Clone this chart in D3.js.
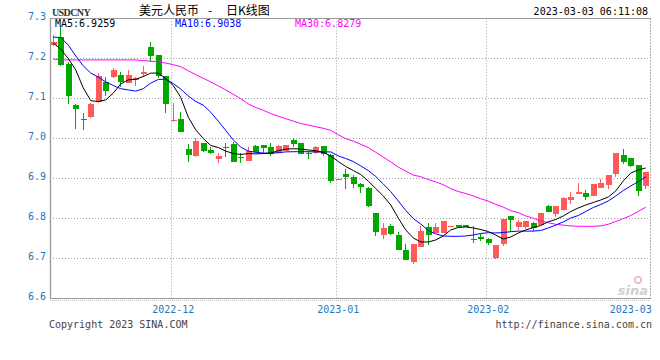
<!DOCTYPE html>
<html><head><meta charset="utf-8">
<script src="https://cdn.jsdelivr.net/npm/d3@7/dist/d3.min.js"></script>
<style>
html,body{margin:0;padding:0;background:#fff;}
svg{display:block;}
</style></head>
<body>
<svg id="chart" width="660" height="360"></svg>
<script>
// ---- data ----
const symbol = "USDCNY";
const titleMain = "美元人民币";
const titleSub = "日K线图";
const stamp = "2023-03-03 06:11:08";
const maLabels = ["MA5:6.9259", "MA10:6.9038", "MA30:6.8279"];
const yTicks = [7.3, 7.2, 7.1, 7.0, 6.9, 6.8, 6.7, 6.6];
const monthTickIdx = [16, 38, 58, 77];
const monthTickLabels = ["2022-12", "2023-01", "2023-02", "2023-03"];

const opens = [7.234,7.254,7.186,7.083,7.048,7.054,7.0915,7.1415,7.1525,7.158,
7.139,7.146,7.161,7.229,7.2083,7.156,7.043,7.048,6.973,6.956,
6.9875,6.971,6.949,6.979,6.986,6.953,6.944,6.981,6.9835,6.9775,
6.964,6.9683,6.9958,6.9875,6.9635,6.964,6.981,6.958,6.897,6.9108,
6.904,6.885,6.875,6.814,6.7583,6.781,6.7583,6.7208,6.6915,6.729,
6.7775,6.7625,6.7625,6.7813,6.783,6.783,6.7478,6.7525,6.7475,6.7008,
6.7358,6.8058,6.7783,6.7775,6.7875,6.7833,6.8308,6.8108,6.8208,6.846,
6.8608,6.864,6.8565,6.8765,6.8833,6.9108,6.958,6.95,6.9333,6.8815];
const highs = [7.258,7.278,7.19,7.085,7.063,7.089,7.1625,7.154,7.175,7.1665,
7.171,7.154,7.181,7.2415,7.2083,7.156,7.089,7.0665,6.986,7.0015,
6.989,6.9775,6.964,6.9875,6.99,6.9625,6.9775,6.9835,6.9835,6.9875,
6.9835,6.9835,7.0,6.9875,6.969,6.98,6.981,6.96,6.899,6.923,
6.908,6.889,6.8775,6.814,6.789,6.7858,6.7665,6.7358,6.7358,6.7808,
6.7875,6.789,6.7933,6.7818,6.783,6.783,6.7808,6.7608,6.75,6.7333,
6.7983,6.8058,6.7965,6.7933,6.7915,6.8133,6.8333,6.8308,6.854,6.865,
6.8875,6.8708,6.8858,6.8975,6.9083,6.9625,6.9725,6.95,6.9333,6.9165];
const lows = [7.232,7.181,7.086,7.023,7.022,7.052,7.089,7.1065,7.1515,7.129,
7.1375,7.131,7.154,7.19,7.15,7.064,7.042,7.0165,6.9415,6.954,
6.9665,6.96,6.939,6.954,6.9415,6.9375,6.944,6.9625,6.964,6.956,
6.964,6.9683,6.979,6.96,6.9475,6.961,6.9565,6.889,6.896,6.8725,
6.875,6.864,6.829,6.7565,6.7483,6.758,6.7208,6.6958,6.6858,6.729,
6.7333,6.7625,6.7625,6.7813,6.779,6.7775,6.7375,6.744,6.7333,6.6983,
6.7308,6.7658,6.7708,6.774,6.769,6.7833,6.8165,6.804,6.819,6.8358,
6.8608,6.8458,6.8565,6.8765,6.8733,6.9033,6.9358,6.9283,6.8558,6.8733];
const closes = [7.242,7.184,7.1065,7.073,7.046,7.086,7.156,7.119,7.1705,7.14,
7.158,7.1515,7.166,7.2065,7.156,7.086,7.045,7.0165,6.958,6.993,
6.969,6.963,6.956,6.976,6.9415,6.951,6.969,6.9665,6.976,6.96,
6.981,6.9835,6.9858,6.96,6.9625,6.9775,6.961,6.894,6.898,6.904,
6.885,6.8775,6.8308,6.7665,6.775,6.7608,6.7208,6.6958,6.7358,6.768,
6.7583,6.7775,6.7933,6.7818,6.779,6.7775,6.7475,6.7475,6.739,6.7333,
6.7983,6.7958,6.7908,6.7933,6.775,6.8125,6.8165,6.8308,6.8508,6.8533,
6.8665,6.854,6.8858,6.889,6.9083,6.9625,6.94,6.9308,6.869,6.9165];

const ma5 = [7.238,7.223,7.1995,7.171,7.126,7.094,7.092,7.096,7.113,7.136,
7.146,7.1475,7.1545,7.163,7.163,7.1495,7.132,7.102,7.053,7.021,
6.9995,6.982,6.977,6.968,6.962,6.9595,6.962,6.961,6.962,6.963,
6.969,6.973,6.974,6.973,6.9708,6.969,6.9645,6.956,6.942,6.9295,
6.9195,6.9095,6.893,6.8745,6.8558,6.8333,6.8008,6.7708,6.7508,6.7408,
6.7408,6.7458,6.7558,6.7708,6.777,6.7783,6.7758,6.772,6.767,6.758,
6.7483,6.7533,6.7633,6.7708,6.777,6.782,6.7915,6.797,6.8058,6.817,
6.8258,6.8333,6.8395,6.8458,6.8533,6.8683,6.8933,6.9133,6.9208,6.9259];
const ma10 = [7.253,7.252,7.233,7.206,7.181,7.163,7.153,7.141,7.132,7.124,
7.121,7.118,7.124,7.138,7.147,7.148,7.137,7.123,7.106,7.092,
7.083,7.065,7.043,7.0195,6.996,6.978,6.968,6.965,6.963,6.9625,
6.964,6.966,6.9665,6.9665,6.9665,6.966,6.966,6.966,6.956,6.9495,
6.942,6.931,6.9195,6.9045,6.8858,6.8665,6.8433,6.8195,6.7995,6.7858,
6.7695,6.761,6.7558,6.755,6.755,6.7558,6.7583,6.762,6.764,6.7633,
6.7645,6.7665,6.768,6.768,6.768,6.7695,6.7758,6.783,6.791,6.8008,
6.807,6.817,6.827,6.8345,6.8433,6.8558,6.8695,6.8808,6.8915,6.9038];
const ma30 = [7.198,7.196,7.196,7.196,7.196,7.196,7.196,7.196,7.196,7.196,
7.196,7.196,7.194,7.193,7.191,7.188,7.184,7.179,7.169,7.159,
7.150,7.141,7.131,7.121,7.110,7.099,7.086,7.077,7.070,7.062,
7.055,7.049,7.043,7.037,7.033,7.029,7.025,7.020,7.009,6.999,
6.993,6.985,6.977,6.965,6.953,6.941,6.928,6.918,6.908,6.904,
6.897,6.891,6.884,6.874,6.867,6.862,6.856,6.849,6.843,6.835,
6.828,6.819,6.814,6.806,6.800,6.794,6.789,6.785,6.783,6.781,
6.780,6.780,6.780,6.781,6.785,6.792,6.799,6.807,6.817,6.8279];

// ---- layout ----
const L = 49.5, R = 649.5, T = 18.3, B = 298.3;
const svg = d3.select("#chart");
const mono = "'DejaVu Sans Mono', monospace";
const idx = d3.range(closes.length);

const x = d3.scaleBand().domain(idx).range([L, R]);
const cx = i => x(i) + x.bandwidth() / 2;
const y = d3.scaleLinear().domain([6.6, 7.3]).range([B, T]);

const up = "#ff5a5a", down = "#00a800", grid = "#a0a0a0", blueTxt = "#1b78c6";

// horizontal grid
svg.append("g").selectAll("line").data(yTicks.filter(v => v < 7.3 && v > 6.6)).join("line")
  .attr("x1", 50).attr("x2", 650)
  .attr("y1", d => Math.round(y(d)) + 0.5).attr("y2", d => Math.round(y(d)) + 0.5)
  .attr("stroke", grid).attr("stroke-dasharray", "1,2");

// vertical month grid (not for the last, clamped label)
svg.append("g").selectAll("line").data(monthTickIdx.slice(0, 3)).join("line")
  .attr("x1", d => Math.floor(cx(d)) - 1.5).attr("x2", d => Math.floor(cx(d)) - 1.5)
  .attr("y1", T).attr("y2", B)
  .attr("stroke", grid).attr("stroke-dasharray", "1,2");

// frame
svg.append("line").attr("x1", 50).attr("x2", 650).attr("y1", 18.5).attr("y2", 18.5).attr("stroke", "#999");
svg.append("line").attr("x1", 50).attr("x2", 650).attr("y1", 298.5).attr("y2", 298.5).attr("stroke", "#999");
svg.append("line").attr("x1", 50).attr("x2", 650).attr("y1", 300.5).attr("y2", 300.5).attr("stroke", "#bbb").attr("stroke-dasharray", "1,1");
svg.append("line").attr("x1", 50.5).attr("x2", 50.5).attr("y1", 18).attr("y2", 299).attr("stroke", "#999").attr("stroke-width", 1.3);
svg.append("line").attr("x1", 650.5).attr("x2", 650.5).attr("y1", 18).attr("y2", 299).attr("stroke", "#aaa").attr("stroke-dasharray", "2,1");

// y axis labels
const yAxis = d3.axisLeft(y).tickValues(yTicks).tickSize(0).tickPadding(0).tickFormat(d3.format(".1f"));
const ya = svg.append("g").attr("transform", "translate(46,0)").call(yAxis);
ya.select(".domain").remove();
ya.selectAll("text").attr("font-family", mono).attr("font-size", 10).attr("fill", blueTxt).attr("dy", "0.12em");

// x axis labels
svg.append("g").selectAll("text").data(monthTickIdx).join("text")
  .attr("x", (d, i) => Math.min(cx(d), 631))
  .attr("y", 313).attr("text-anchor", "middle")
  .attr("font-family", mono).attr("font-size", 10).attr("fill", blueTxt)
  .text((d, i) => monthTickLabels[i]);

// sina watermark
const wm = svg.append("g");
wm.append("circle").attr("cx", 638).attr("cy", 280).attr("r", 3.2).attr("fill", "none").attr("stroke", "#e8b4b4").attr("stroke-width", 1.5);
wm.append("text").attr("x", 648).attr("y", 295).attr("text-anchor", "end")
  .attr("font-family", "'DejaVu Sans', sans-serif").attr("font-size", 13).attr("font-weight", "bold").attr("font-style", "italic")
  .attr("fill", "#cfcfcf").text("sina");

// candles
const cg = svg.append("g").attr("shape-rendering", "crispEdges");
idx.forEach(i => {
  const o = opens[i], c = closes[i], h = highs[i], l = lows[i];
  const col = c >= o ? up : down;
  const xc = Math.floor(cx(i));
  cg.append("line").attr("x1", xc + 0.5).attr("x2", xc + 0.5)
    .attr("y1", y(h)).attr("y2", y(l)).attr("stroke", col);
  const top = y(Math.max(o, c)), bot = y(Math.min(o, c));
  cg.append("rect").attr("x", xc - 2).attr("width", 6)
    .attr("y", top).attr("height", Math.max(1, bot - top)).attr("fill", col);
});

// moving averages
const line = d3.line().x((d, i) => cx(i)).y(d => y(d));
[[ma30, "#ff00ff"], [ma10, "#0000ff"], [ma5, "#000000"]].forEach(([s, col]) => {
  svg.append("path").attr("d", line(s)).attr("fill", "none").attr("stroke", col).attr("stroke-width", 1);
});

// header
svg.append("text").attr("x", 52).attr("y", 15.5)
  .attr("font-family", "'Liberation Serif', serif").attr("font-size", 10).attr("font-weight", "bold")
  .attr("letter-spacing", -0.6).attr("fill", "#333").text(symbol);
const cjk = "'Noto Sans CJK SC', sans-serif";
svg.append("text").attr("x", 139).attr("y", 15).attr("font-family", cjk).attr("font-size", 12).attr("fill", "#000").text(titleMain);
svg.append("text").attr("x", 210).attr("y", 15).attr("text-anchor", "middle").attr("font-family", cjk).attr("font-size", 12).attr("fill", "#000").text("-");
svg.append("text").attr("x", 226).attr("y", 15).attr("font-family", cjk).attr("font-size", 12).attr("fill", "#000").text(titleSub);
svg.append("text").attr("x", 648).attr("y", 15).attr("text-anchor", "end")
  .attr("font-family", mono).attr("font-size", 10).attr("fill", "#000").text(stamp);

// legend
const legCols = ["#000000", "#0000ff", "#ff00ff"];
svg.append("g").selectAll("text").data(maLabels).join("text")
  .attr("x", (d, i) => 55 + 120 * i).attr("y", 27)
  .attr("font-family", mono).attr("font-size", 10)
  .attr("fill", (d, i) => legCols[i]).text(d => d);

// footer
svg.append("text").attr("x", 49).attr("y", 328).attr("font-family", mono).attr("font-size", 10).attr("fill", "#444").text("Copyright 2023 SINA.COM");
svg.append("text").attr("x", 652).attr("y", 328).attr("text-anchor", "end").attr("font-family", mono).attr("font-size", 10).attr("fill", "#444").text("http://finance.sina.com.cn");
</script>
</body></html>
